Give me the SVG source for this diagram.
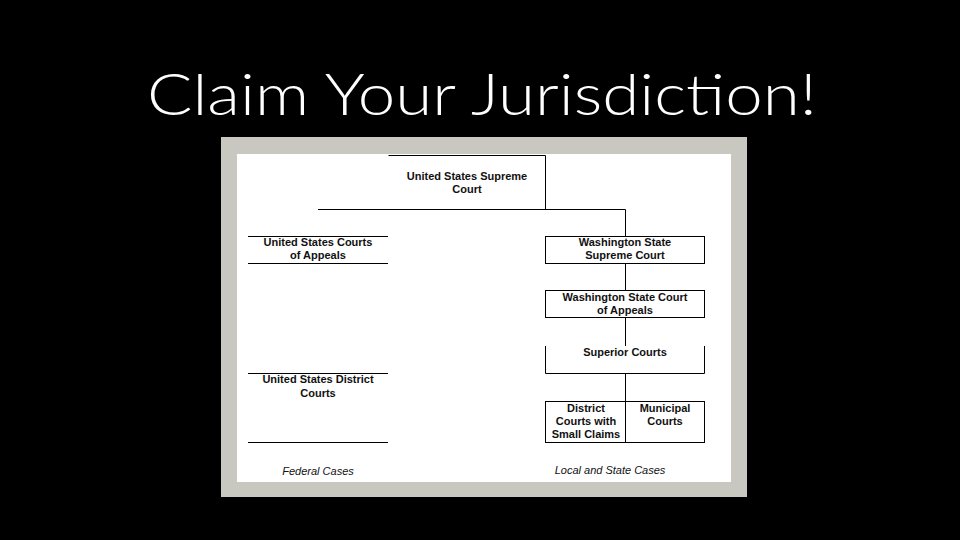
<svg xmlns="http://www.w3.org/2000/svg" width="960" height="540" viewBox="0 0 960 540">
<style>
.t{font-family:"Liberation Sans",Arial,sans-serif;font-size:11px;font-weight:bold;fill:#111;text-anchor:middle}
.i{font-family:"Liberation Sans",Arial,sans-serif;font-size:11px;font-style:italic;fill:#111;text-anchor:middle}
.l{stroke:#000;stroke-width:1;fill:none}
</style>
<rect width="960" height="540" fill="#000"/>
<text x="482" y="115" font-family="Lato,'Open Sans',sans-serif" font-weight="300" font-size="58" fill="#fff" text-anchor="middle" textLength="670" lengthAdjust="spacingAndGlyphs">Claim Your Jurisdiction!</text>
<rect x="221" y="137" width="526" height="360" fill="#c8c8c0"/>
<rect x="237" y="154" width="494" height="328" fill="#fff"/>
<g id="connectors" class="l">
<path d="M388.5 155.5H545.5V209.5M318 209.5H625.5V236"/>
<path d="M625.5 263V290M625.5 318V346M625.5 373V401"/>
</g>
<g id="us-supreme"><text class="t" x="467" y="180">United States Supreme</text><text class="t" x="467" y="193">Court</text></g>
<g id="us-appeals"><path class="l" d="M248 236.5H388M248 263.5H388"/><text class="t" x="318" y="246">United States Courts</text><text class="t" x="318" y="259">of Appeals</text></g>
<g id="us-district"><path class="l" d="M248 373.5H388M248 442.5H388"/><text class="t" x="318" y="383">United States District</text><text class="t" x="318" y="397">Courts</text></g>
<g id="wa-supreme"><rect class="l" x="545.5" y="236.5" width="159" height="27"/><text class="t" x="625" y="246">Washington State</text><text class="t" x="625" y="259">Supreme Court</text></g>
<g id="wa-appeals"><rect class="l" x="545.5" y="290.5" width="159" height="27"/><text class="t" x="625" y="301">Washington State Court</text><text class="t" x="625" y="314">of Appeals</text></g>
<g id="superior"><path class="l" d="M545.5 346V373.5H704.5V346"/><text class="t" x="625" y="356">Superior Courts</text></g>
<g id="district"><rect class="l" x="545.5" y="401.5" width="80" height="41"/><text class="t" x="586" y="412">District</text><text class="t" x="586" y="425">Courts with</text><text class="t" x="586" y="438">Small Claims</text></g>
<g id="municipal"><rect class="l" x="625.5" y="401.5" width="79" height="41"/><text class="t" x="665" y="412">Municipal</text><text class="t" x="665" y="425">Courts</text></g>
<text class="i" x="318" y="475">Federal Cases</text>
<text class="i" x="610" y="474">Local and State Cases</text>
</svg>
